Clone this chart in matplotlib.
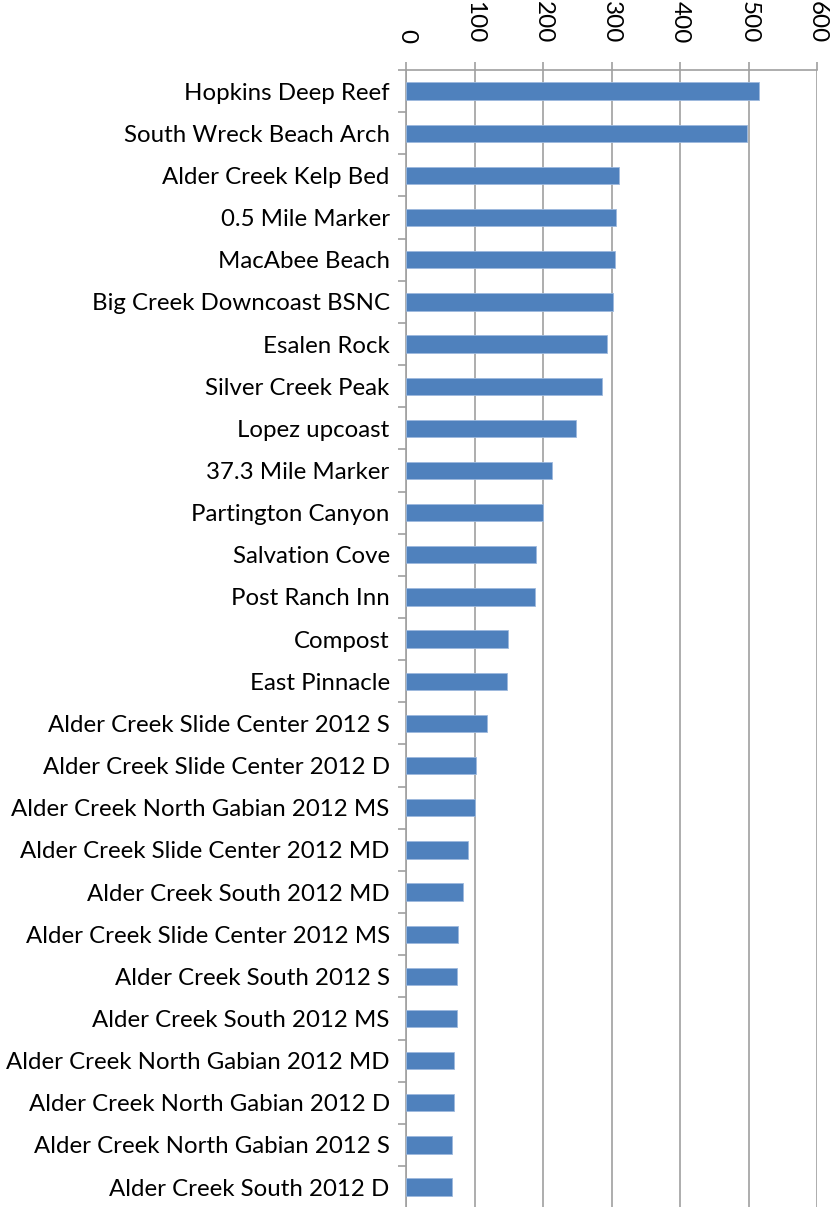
import numpy as np
import matplotlib.pyplot as plt

plt.rcParams['font.family'] = ['Lato', 'DejaVu Sans']

# sites, top to bottom
sites = [
    "Hopkins Deep Reef", "South Wreck Beach Arch", "Alder Creek Kelp Bed",
    "0.5 Mile Marker", "MacAbee Beach", "Big Creek Downcoast BSNC",
    "Esalen Rock", "Silver Creek Peak", "Lopez upcoast", "37.3 Mile Marker",
    "Partington Canyon", "Salvation Cove", "Post Ranch Inn", "Compost",
    "East Pinnacle", "Alder Creek Slide Center 2012 S",
    "Alder Creek Slide Center 2012 D", "Alder Creek North Gabian 2012 MS",
    "Alder Creek Slide Center 2012 MD", "Alder Creek South 2012 MD",
    "Alder Creek Slide Center 2012 MS", "Alder Creek South 2012 S",
    "Alder Creek South 2012 MS", "Alder Creek North Gabian 2012 MD",
    "Alder Creek North Gabian 2012 D", "Alder Creek North Gabian 2012 S",
    "Alder Creek South 2012 D",
]
values = [515, 498, 311, 306, 304, 302, 293, 285, 248, 212, 200, 190, 188,
          149, 147, 118, 101, 100, 90, 83, 76, 74, 74, 70, 70, 66, 66]
xticks = [0, 100, 200, 300, 400, 500, 600]

fig = plt.figure(figsize=(8.39, 12.07), dpi=100)
ax = fig.add_axes([0.4843, -0.001, 0.4898, 0.943])

y = np.arange(len(sites))
ax.barh(y, values, height=0.41, color='#4F81BD', edgecolor='#9DB9DD',
        linewidth=0.6, zorder=3)

ax.set_ylim(len(sites) - 0.5, -0.5)
ax.set_xlim(0, 600)
ax.set_yticks(y)
ax.set_yticklabels(sites, fontsize=17.3)
ax.set_yticks(np.arange(len(sites) + 1) - 0.5, minor=True)
ax.tick_params(axis='y', which='major', length=0, pad=12)
ax.tick_params(axis='y', which='minor', length=6, width=1.2, color='#A0A0A0')

ax.xaxis.tick_top()
ax.set_xticks(xticks)
ax.set_xticklabels([str(v) for v in xticks], rotation=-90, fontsize=17.5)
ax.tick_params(axis='x', length=6, width=1.2, color='#A0A0A0', pad=13)
ax.grid(axis='x', color='#A0A0A0', linewidth=1.2, zorder=0)

for s in ['right', 'bottom']:
    ax.spines[s].set_visible(False)
for s in ['top', 'left']:
    ax.spines[s].set_color('#A0A0A0')
    ax.spines[s].set_linewidth(1.2)

fig.savefig('out.png', dpi=100)
